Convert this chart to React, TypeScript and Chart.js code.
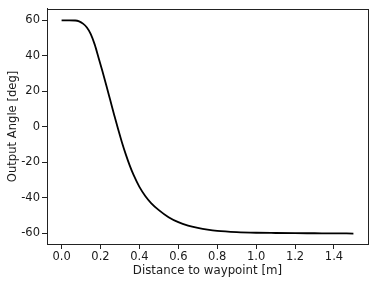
import React, { useEffect, useRef } from "react";
import { Chart, registerables } from "chart.js";

Chart.register(...registerables);

const distance = [0, 0.04, 0.07, 0.09, 0.11, 0.13, 0.15, 0.17, 0.19, 0.21, 0.23, 0.25, 0.27, 0.29, 0.31, 0.33, 0.35, 0.37, 0.4, 0.43, 0.46, 0.5, 0.55, 0.6, 0.65, 0.7, 0.75, 0.8, 0.9, 1.0, 1.1, 1.2, 1.3, 1.4, 1.5];
const angle = [60, 60, 59.95, 59.5, 58.2, 56.0, 52.3, 46.5, 39.0, 31.3, 23.3, 15.1, 6.9, -1.1, -8.6, -15.5, -21.7, -27.1, -33.8, -38.9, -42.9, -46.9, -50.9, -53.7, -55.6, -56.9, -57.9, -58.6, -59.3, -59.65, -59.8, -59.9, -59.95, -60, -60.1];
const xTicks = [0, 0.2, 0.4, 0.6, 0.8, 1.0, 1.2, 1.4];
const yTicks = [-60, -40, -20, 0, 20, 40, 60];

const FONT = "'DejaVu Sans', sans-serif";
const TEXT = "#1a1a1a";

const boxPlugin = {
  id: "box",
  afterDraw(chart: any) {
    const { ctx, chartArea } = chart;
    ctx.save();
    ctx.strokeStyle = "#222";
    ctx.lineWidth = 1;
    ctx.strokeRect(
      Math.round(chartArea.left) + 0.5,
      Math.round(chartArea.top) + 0.5,
      Math.round(chartArea.right - chartArea.left),
      Math.round(chartArea.bottom - chartArea.top)
    );
    ctx.restore();
  },
};

export default function App() {
  const ref = useRef<HTMLCanvasElement | null>(null);
  useEffect(() => {
    if (!ref.current) return;
    const chart = new Chart(ref.current, {
      type: "line",
      data: {
        datasets: [
          {
            data: distance.map((x, i) => ({ x, y: angle[i] })),
            borderColor: "#000",
            borderWidth: 1.8,
            pointRadius: 0,
            fill: false,
            cubicInterpolationMode: "monotone",
          },
        ],
      },
      options: {
        animation: false,
        responsive: false,
        maintainAspectRatio: false,
        events: [],
        layout: { padding: { left: 0, right: 6, top: 5, bottom: 0 } },
        plugins: { legend: { display: false }, tooltip: { enabled: false } },
        scales: {
          x: {
            type: "linear",
            min: -0.075,
            max: 1.575,
            afterBuildTicks: (s: any) => {
              s.ticks = xTicks.map((v) => ({ value: v }));
            },
            afterFit: (s: any) => {
              s.height = 40;
            },
            grid: { drawOnChartArea: false, drawTicks: true, tickLength: 5, color: "#222" },
            border: { display: true, color: "#222" },
            ticks: {
              color: TEXT,
              font: { family: FONT, size: 11.5 },
              padding: 1,
              maxRotation: 0,
              callback: (v: any) => Number(v).toFixed(1),
            },
            title: {
              display: true,
              text: "Distance to waypoint [m]",
              color: TEXT,
              font: { family: FONT, size: 11.8 },
              padding: { top: 6, bottom: 6 },
            },
          },
          y: {
            type: "linear",
            min: -66,
            max: 66.5,
            afterBuildTicks: (s: any) => {
              s.ticks = yTicks.map((v) => ({ value: v }));
            },
            afterFit: (s: any) => {
              s.width = 47;
            },
            grid: { drawOnChartArea: false, drawTicks: true, tickLength: 5, color: "#222" },
            border: { display: true, color: "#222" },
            ticks: {
              color: TEXT,
              font: { family: FONT, size: 11.5 },
              padding: 2,
              callback: (v: any) => String(v),
            },
            title: {
              display: true,
              text: "Output Angle [deg]",
              color: TEXT,
              font: { family: FONT, size: 11.6 },
              padding: { top: 6, bottom: 6 },
            },
          },
        },
      },
      plugins: [boxPlugin],
    } as any);
    return () => chart.destroy();
  }, []);
  return (
    <div style={{ position: "absolute", left: 0, top: 0, width: 374, height: 284, background: "#fff" }}>
      <canvas ref={ref} width={374} height={284} style={{ width: 374, height: 284 }} />
    </div>
  );
}
